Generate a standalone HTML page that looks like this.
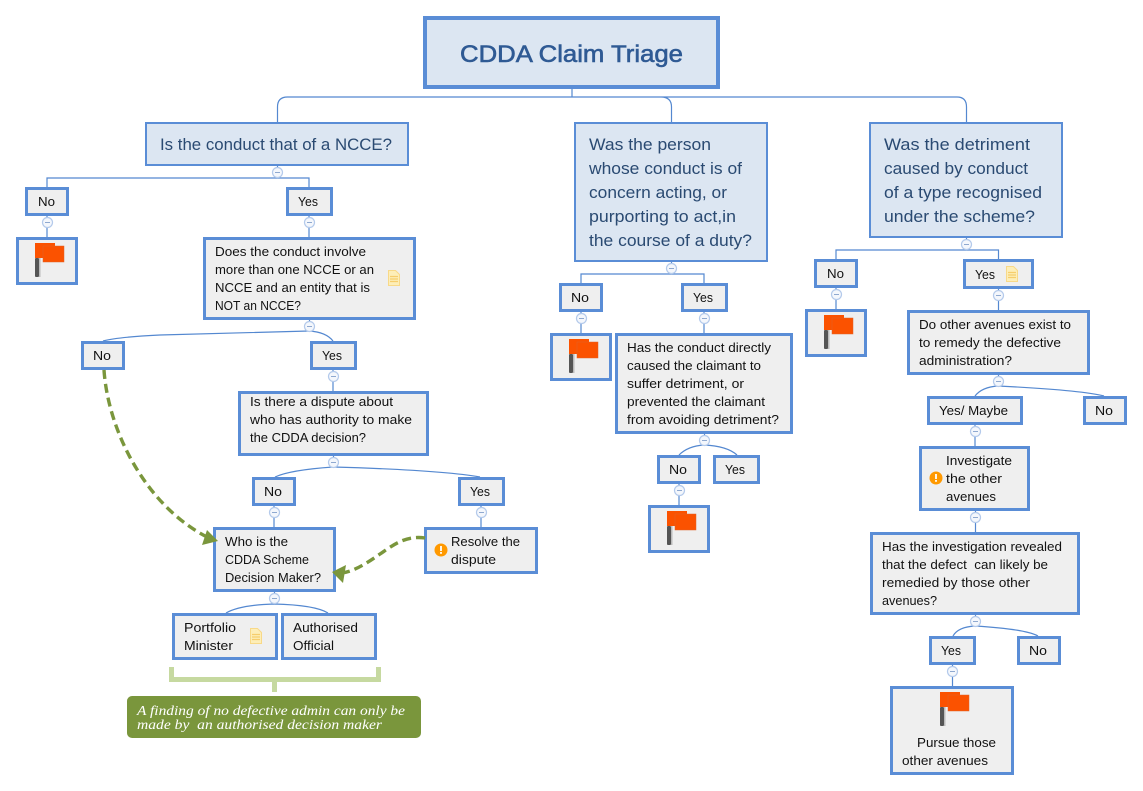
<!DOCTYPE html>
<html><head><meta charset="utf-8"><style>
html,body{margin:0;padding:0;background:#fff;width:1143px;height:791px;overflow:hidden}
svg{display:block}
text{font-family:"Liberation Sans",sans-serif;font-size:13px;fill:#111}
.h{font-size:17px;fill:#2a4a72}
.t{font-size:24px;fill:#2f5a94;stroke:#2f5a94;stroke-width:.6}
.n{font-family:"Liberation Serif",serif;font-style:italic;font-size:14px;fill:#fff}
.b{fill:#efefef;stroke:#5a8dd6;stroke-width:3}
.m{fill:#dce6f2;stroke:#5a8dd6;stroke-width:2}
.c{fill:none;stroke:#5488d0;stroke-width:1.2}
.k{fill:#f4f7fc;stroke:#b4caeb;stroke-width:1.2}
.d{fill:none;stroke:#7a963c;stroke-width:3.4;stroke-dasharray:9 5}
</style></head><body>
<svg width="1143" height="791" viewBox="0 0 1143 791" xmlns="http://www.w3.org/2000/svg">
<defs>
<g id="flag"><rect x="4" y="15" width="1.5" height="19" fill="#bbb"/><rect x="0" y="15" width="4" height="19" rx="1" fill="#555"/><rect x="0" y="0" width="20" height="15" fill="#fb5200"/><rect x="8" y="3" width="21" height="16" fill="#fb5200" stroke="#e0622a" stroke-width=".5"/></g>
<g id="note"><path d="M.5 .5H7.5L11.5 4.5V15.5H.5Z" fill="#fdeeb8" stroke="#f8d988"/><path d="M2 6.5H10M2 9H10M2 11.5H10" stroke="#f6cd6c" stroke-width="1.3"/></g>
<g id="col"><circle r="5" class="k"/><path d="M-2.5 0H2.5" stroke="#8fa9d0"/></g>
<g id="warn"><circle r="6.5" fill="#f90"/><rect x="-.9" y="-4" width="1.8" height="5" fill="#fff"/><rect x="-.9" y="2" width="1.8" height="1.8" fill="#fff"/></g>
</defs>

<!-- connectors -->
<path class="c" d="M572 89V97M277.5 122V107Q277.5 97 287.5 97H957Q966.5 97 966.5 107V122M661 97Q671.5 97 671.5 107V122"/>
<path class="c" d="M277.5 166V178M47 187V178H309V187M47 216V237M309 216V237"/>
<path class="c" d="M309.5 320V331M103 341Q118 337 160 335L309 331Q326 332 333 341M333 370V391"/>
<path class="c" d="M333.5 456V467M275 477Q290 470 333 467Q440 470 480 477M274 506V527M481 506V527"/>
<path class="c" d="M274.5 592V604M226 613Q240 605 274 604Q315 605 328 613"/>
<path class="c" d="M671.5 262V274M581 283V274H704V283M581 312V333M704 312V333M704.5 434V445M679 455Q688 446 704 445Q727 446 737 455M679 484V505"/>
<path class="c" d="M966.5 238V250M836 259V250H998.5V259M836 288V309M998.5 289V310M998.5 375V386M975 396Q982 387 998 386Q1080 390 1104 396M975 425V446M975.5 511V532M975.5 615V626M953 636Q958 627 975 626Q1025 629 1038 636M952.5 665V686"/>

<!-- boxes -->
<rect x="425" y="18" width="293" height="69" fill="#dce6f2" stroke="#5a8dd6" stroke-width="4"/>
<rect class="m" x="146" y="123" width="262" height="42"/>
<rect class="m" x="575" y="123" width="192" height="138"/>
<rect class="m" x="870" y="123" width="192" height="114"/>

<rect class="b" x="26.5" y="188.5" width="41" height="26"/>
<rect class="b" x="287.5" y="188.5" width="44" height="26"/>
<rect class="b" x="17.5" y="238.5" width="59" height="45"/>
<rect class="b" x="204.5" y="238.5" width="210" height="80"/>
<rect class="b" x="82.5" y="342.5" width="41" height="26"/>
<rect class="b" x="311.5" y="342.5" width="44" height="26"/>
<rect class="b" x="239.5" y="392.5" width="188" height="62"/>
<rect class="b" x="253.5" y="478.5" width="41" height="26"/>
<rect class="b" x="459.5" y="478.5" width="44" height="26"/>
<rect class="b" x="214.5" y="528.5" width="120" height="62"/>
<rect class="b" x="425.5" y="528.5" width="111" height="44"/>
<rect class="b" x="173.5" y="614.5" width="103" height="44"/>
<rect class="b" x="282.5" y="614.5" width="93" height="44"/>

<rect class="b" x="560.5" y="284.5" width="41" height="26"/>
<rect class="b" x="682.5" y="284.5" width="44" height="26"/>
<rect class="b" x="551.5" y="334.5" width="59" height="45"/>
<rect class="b" x="616.5" y="334.5" width="175" height="98"/>
<rect class="b" x="658.5" y="456.5" width="41" height="26"/>
<rect class="b" x="714.5" y="456.5" width="44" height="26"/>
<rect class="b" x="649.5" y="506.5" width="59" height="45"/>

<rect class="b" x="815.5" y="260.5" width="41" height="26"/>
<rect class="b" x="964.5" y="260.5" width="68" height="27"/>
<rect class="b" x="806.5" y="310.5" width="59" height="45"/>
<rect class="b" x="908.5" y="311.5" width="180" height="62"/>
<rect class="b" x="928.5" y="397.5" width="93" height="26"/>
<rect class="b" x="1084.5" y="397.5" width="41" height="26"/>
<rect class="b" x="920.5" y="447.5" width="108" height="62"/>
<rect class="b" x="871.5" y="533.5" width="207" height="80"/>
<rect class="b" x="930.5" y="637.5" width="44" height="26"/>
<rect class="b" x="1018.5" y="637.5" width="41" height="26"/>
<rect class="b" x="891.5" y="687.5" width="121" height="86"/>

<!-- collapse markers -->
<use href="#col" x="277.5" y="172.5"/><use href="#col" x="47.5" y="222.5"/><use href="#col" x="309.5" y="222.5"/>
<use href="#col" x="309.5" y="326.5"/><use href="#col" x="333.5" y="376.5"/><use href="#col" x="333.5" y="462.5"/>
<use href="#col" x="274.5" y="512.5"/><use href="#col" x="481.5" y="512.5"/><use href="#col" x="274.5" y="598.5"/>
<use href="#col" x="671.5" y="268.5"/><use href="#col" x="581.5" y="318.5"/><use href="#col" x="704.5" y="318.5"/>
<use href="#col" x="704.5" y="440.5"/><use href="#col" x="679.5" y="490.5"/>
<use href="#col" x="966.5" y="244.5"/><use href="#col" x="836.5" y="294.5"/><use href="#col" x="998.5" y="295.5"/>
<use href="#col" x="998.5" y="381.5"/><use href="#col" x="975.5" y="431.5"/><use href="#col" x="975.5" y="517.5"/>
<use href="#col" x="975.5" y="621.5"/><use href="#col" x="952.5" y="671.5"/>

<!-- icons -->
<use href="#flag" x="35" y="243"/><use href="#flag" x="569" y="339"/><use href="#flag" x="667" y="511"/><use href="#flag" x="824" y="315"/><use href="#flag" x="940" y="692"/>
<use href="#note" x="388" y="270"/><use href="#note" x="250" y="628"/><use href="#note" x="1006" y="266"/>
<use href="#warn" x="441" y="550"/><use href="#warn" x="936" y="478"/>

<!-- dashed relations -->
<path class="d" d="M104 370C108 430 145 505 207 537"/>
<path d="M207 530L218 541L202 545Z" fill="#7a963c"/>
<path class="d" d="M425 538C405 535 392 546 380 554C367 563 355 571 342 573"/>
<path d="M346 565L332 572L343 583Z" fill="#7a963c"/>

<!-- summary -->
<path d="M171.5 667V679.5H378.5V667M274.5 680V692" fill="none" stroke="#c6d9a0" stroke-width="5"/>
<rect x="127" y="696" width="294" height="42" rx="5" fill="#7a963c"/>
<text class="n" x="137" y="715" textLength="268" lengthAdjust="spacingAndGlyphs">A finding of no defective admin can only be</text>
<text class="n" x="137" y="729" textLength="245" lengthAdjust="spacingAndGlyphs" xml:space="preserve">made by  an authorised decision maker</text>

<!-- text -->
<text class="t" x="460" y="62" textLength="223" lengthAdjust="spacingAndGlyphs">CDDA Claim Triage</text>
<text class="h" x="160" y="150" textLength="232" lengthAdjust="spacingAndGlyphs">Is the conduct that of a NCCE?</text>
<text class="h" x="589" y="150" textLength="122" lengthAdjust="spacingAndGlyphs">Was the person</text>
<text class="h" x="589" y="174" textLength="153" lengthAdjust="spacingAndGlyphs">whose conduct is of</text>
<text class="h" x="589" y="198" textLength="138" lengthAdjust="spacingAndGlyphs">concern acting, or</text>
<text class="h" x="589" y="222" textLength="147" lengthAdjust="spacingAndGlyphs">purporting to act,in</text>
<text class="h" x="589" y="246" textLength="163" lengthAdjust="spacingAndGlyphs">the course of a duty?</text>
<text class="h" x="884" y="150" textLength="146" lengthAdjust="spacingAndGlyphs">Was the detriment</text>
<text class="h" x="884" y="174" textLength="144" lengthAdjust="spacingAndGlyphs">caused by conduct</text>
<text class="h" x="884" y="198" textLength="158" lengthAdjust="spacingAndGlyphs">of a type recognised</text>
<text class="h" x="884" y="222" textLength="151" lengthAdjust="spacingAndGlyphs">under the scheme?</text>

<text x="38" y="206" textLength="17" lengthAdjust="spacingAndGlyphs">No</text>
<text x="298" y="206" textLength="20" lengthAdjust="spacingAndGlyphs">Yes</text>
<text x="215" y="256" textLength="151" lengthAdjust="spacingAndGlyphs">Does the conduct involve</text>
<text x="215" y="274" textLength="159" lengthAdjust="spacingAndGlyphs">more than one NCCE or an</text>
<text x="215" y="292" textLength="155" lengthAdjust="spacingAndGlyphs">NCCE and an entity that is</text>
<text x="215" y="310" textLength="86" lengthAdjust="spacingAndGlyphs">NOT an NCCE?</text>
<text x="93" y="360" textLength="18" lengthAdjust="spacingAndGlyphs">No</text>
<text x="322" y="360" textLength="20" lengthAdjust="spacingAndGlyphs">Yes</text>
<text x="250" y="406" textLength="143" lengthAdjust="spacingAndGlyphs">Is there a dispute about</text>
<text x="250" y="424" textLength="162" lengthAdjust="spacingAndGlyphs">who has authority to make</text>
<text x="250" y="442" textLength="116" lengthAdjust="spacingAndGlyphs">the CDDA decision?</text>
<text x="264" y="496" textLength="18" lengthAdjust="spacingAndGlyphs">No</text>
<text x="470" y="496" textLength="20" lengthAdjust="spacingAndGlyphs">Yes</text>
<text x="225" y="546" textLength="63" lengthAdjust="spacingAndGlyphs">Who is the</text>
<text x="225" y="564" textLength="84" lengthAdjust="spacingAndGlyphs">CDDA Scheme</text>
<text x="225" y="582" textLength="96" lengthAdjust="spacingAndGlyphs">Decision Maker?</text>
<text x="451" y="546" textLength="69" lengthAdjust="spacingAndGlyphs">Resolve the</text>
<text x="451" y="564" textLength="45" lengthAdjust="spacingAndGlyphs">dispute</text>
<text x="184" y="632" textLength="52" lengthAdjust="spacingAndGlyphs">Portfolio</text>
<text x="184" y="650" textLength="49" lengthAdjust="spacingAndGlyphs">Minister</text>
<text x="293" y="632" textLength="65" lengthAdjust="spacingAndGlyphs">Authorised</text>
<text x="293" y="650" textLength="41" lengthAdjust="spacingAndGlyphs">Official</text>

<text x="571" y="302" textLength="18" lengthAdjust="spacingAndGlyphs">No</text>
<text x="693" y="302" textLength="20" lengthAdjust="spacingAndGlyphs">Yes</text>
<text x="627" y="352" textLength="144" lengthAdjust="spacingAndGlyphs">Has the conduct directly</text>
<text x="627" y="370" textLength="134" lengthAdjust="spacingAndGlyphs">caused the claimant to</text>
<text x="627" y="388" textLength="117" lengthAdjust="spacingAndGlyphs">suffer detriment, or</text>
<text x="627" y="406" textLength="138" lengthAdjust="spacingAndGlyphs">prevented the claimant</text>
<text x="627" y="424" textLength="152" lengthAdjust="spacingAndGlyphs">from avoiding detriment?</text>
<text x="669" y="474" textLength="18" lengthAdjust="spacingAndGlyphs">No</text>
<text x="725" y="474" textLength="20" lengthAdjust="spacingAndGlyphs">Yes</text>

<text x="827" y="278" textLength="17" lengthAdjust="spacingAndGlyphs">No</text>
<text x="975" y="279" textLength="20" lengthAdjust="spacingAndGlyphs">Yes</text>
<text x="919" y="329" textLength="152" lengthAdjust="spacingAndGlyphs">Do other avenues exist to</text>
<text x="919" y="347" textLength="142" lengthAdjust="spacingAndGlyphs">to remedy the defective</text>
<text x="919" y="365" textLength="93" lengthAdjust="spacingAndGlyphs">administration?</text>
<text x="939" y="415" textLength="69" lengthAdjust="spacingAndGlyphs">Yes/ Maybe</text>
<text x="1095" y="415" textLength="18" lengthAdjust="spacingAndGlyphs">No</text>
<text x="946" y="465" textLength="66" lengthAdjust="spacingAndGlyphs">Investigate</text>
<text x="946" y="483" textLength="56" lengthAdjust="spacingAndGlyphs">the other</text>
<text x="946" y="501" textLength="50" lengthAdjust="spacingAndGlyphs">avenues</text>
<text x="882" y="551" textLength="180" lengthAdjust="spacingAndGlyphs">Has the investigation revealed</text>
<text x="882" y="569" textLength="166" lengthAdjust="spacingAndGlyphs" xml:space="preserve">that the defect  can likely be</text>
<text x="882" y="587" textLength="148" lengthAdjust="spacingAndGlyphs">remedied by those other</text>
<text x="882" y="605" textLength="55" lengthAdjust="spacingAndGlyphs">avenues?</text>
<text x="941" y="655" textLength="20" lengthAdjust="spacingAndGlyphs">Yes</text>
<text x="1029" y="655" textLength="18" lengthAdjust="spacingAndGlyphs">No</text>
<text x="917" y="747" textLength="79" lengthAdjust="spacingAndGlyphs">Pursue those</text>
<text x="902" y="765" textLength="86" lengthAdjust="spacingAndGlyphs">other avenues</text>
</svg>
</body></html>
